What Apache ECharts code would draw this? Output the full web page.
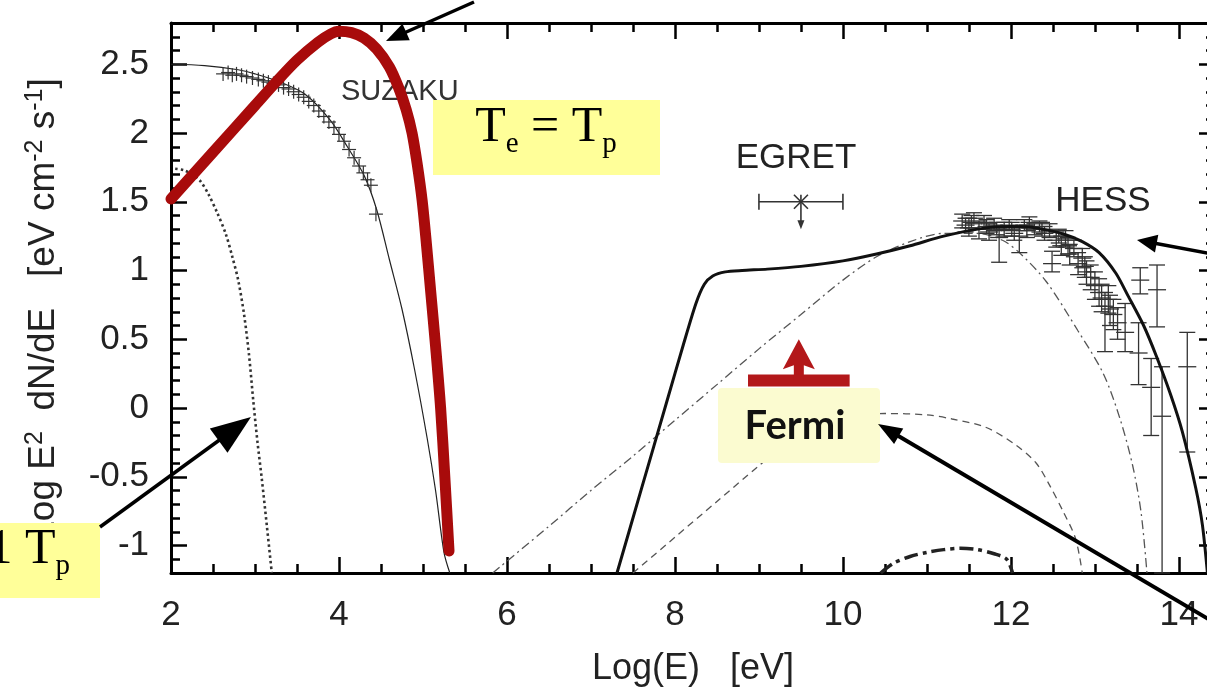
<!DOCTYPE html>
<html>
<head>
<meta charset="utf-8">
<script src="https://cdn.jsdelivr.net/npm/echarts@6/dist/echarts.min.js"></script>
<style>
html,body{margin:0;padding:0;background:#fff;}
#c{width:1207px;height:688px;}
</style>
</head>
<body>
<div id="c"></div>
<script>
// ---------------- DATA ----------------
// Axis ticks / labels
const xMajor = [2, 4, 6, 8, 10, 12, 14];
const xMinor = [2.5, 3, 3.5, 4.5, 5, 5.5, 6.5, 7, 7.5, 8.5, 9, 9.5, 10.5, 11, 11.5, 12.5, 13, 13.5];
const yMajor = [-1, -0.5, 0, 0.5, 1, 1.5, 2, 2.5];
const yMinor = [-1.1, -0.9, -0.8, -0.7, -0.6, -0.4, -0.3, -0.2, -0.1, 0.1, 0.2, 0.3, 0.4,
  0.6, 0.7, 0.8, 0.9, 1.1, 1.2, 1.3, 1.4, 1.6, 1.7, 1.8, 1.9, 2.1, 2.2, 2.3, 2.4, 2.6, 2.7];

// Synchrotron model (thin solid)
const suzModelX = [2.0, 2.4, 2.8, 3.0, 3.3, 3.6, 3.9, 4.1, 4.3, 4.45, 4.6, 4.75, 4.9, 5.05, 5.15, 5.25, 5.32];
const suzModelY = [2.50, 2.49, 2.46, 2.43, 2.37, 2.28, 2.09, 1.90, 1.69, 1.44, 1.08, 0.72, 0.28, -0.22, -0.60, -1.05, -1.20];

// SUZAKU data points
const suzX = [2.62, 2.68, 2.73, 2.78, 2.84, 2.90, 2.97, 3.04, 3.10, 3.16, 3.22, 3.28, 3.34, 3.40, 3.46, 3.52,
  3.58, 3.64, 3.70, 3.76, 3.82, 3.88, 3.94, 4.00, 4.06, 4.12, 4.18, 4.24, 4.29, 4.34, 4.38, 4.44];
const suzY = [2.43, 2.44, 2.42, 2.43, 2.42, 2.41, 2.40, 2.39, 2.38, 2.37, 2.36, 2.35, 2.33, 2.32, 2.30, 2.28,
  2.26, 2.23, 2.20, 2.16, 2.12, 2.08, 2.04, 1.99, 1.94, 1.88, 1.82, 1.76, 1.71, 1.66, 1.62, 1.41];

// Dotted model
const dotX = [2.05, 2.15, 2.25, 2.35, 2.45, 2.55, 2.65, 2.73, 2.80, 2.87, 2.93, 2.98, 3.03, 3.08, 3.14, 3.20];
const dotY = [1.74, 1.73, 1.70, 1.65, 1.55, 1.42, 1.27, 1.10, 0.93, 0.68, 0.38, 0.05, -0.25, -0.51, -0.85, -1.20];

// Te = Tp model (thick red)
const redX = [2.0, 2.5, 3.0, 3.25, 3.5, 3.75, 3.9, 4.0, 4.15, 4.3, 4.45, 4.6, 4.71, 4.8, 4.87, 4.93, 4.99, 5.04, 5.09, 5.15, 5.21, 5.26, 5.31];
const redY = [1.52, 1.86, 2.20, 2.37, 2.53, 2.66, 2.72, 2.74, 2.73, 2.69, 2.61, 2.48, 2.33, 2.17, 2.00, 1.78, 1.51, 1.20, 0.86, 0.45, 0.00, -0.50, -1.04];

// Total gamma-ray model (thick solid, right)
const gamX = [7.31, 7.6, 7.9, 8.1, 8.25, 8.35, 8.45, 8.6, 8.8, 9.1, 9.5, 10.0, 10.4, 10.8, 11.2, 11.7, 12.0, 12.3, 12.65,
  12.85, 13.05, 13.25, 13.4, 13.58, 13.73, 13.9, 14.04, 14.2, 14.28, 14.34];
const gamY = [-1.20, -0.59, 0.04, 0.46, 0.76, 0.90, 0.96, 0.99, 1.00, 1.01, 1.03, 1.07, 1.12, 1.18, 1.25, 1.31, 1.32, 1.31, 1.26,
  1.21, 1.13, 0.98, 0.81, 0.60, 0.38, 0.10, -0.17, -0.58, -0.85, -1.20];

// Dash-dot model (thin)
const ddX = [5.83, 6.5, 7.0, 7.5, 8.0, 8.5, 9.0, 9.5, 10.0, 10.4, 10.8, 11.2, 11.6, 11.9, 12.1, 12.42, 12.8, 13.1, 13.3, 13.45, 13.55, 13.62];
const ddY = [-1.2, -0.86, -0.60, -0.35, -0.09, 0.17, 0.43, 0.68, 0.93, 1.10, 1.21, 1.27, 1.27, 1.22, 1.13, 0.92, 0.56, 0.25, -0.08, -0.42, -0.76, -1.2];

// Dashed model (thin)
const dsX = [7.5, 8.0, 8.5, 9.0, 9.3, 9.6, 10.0, 10.5, 11.0, 11.3, 11.7, 12.06, 12.3, 12.45, 12.62, 12.77, 12.85];
const dsY = [-1.2, -0.94, -0.68, -0.42, -0.27, -0.15, -0.07, -0.04, -0.05, -0.08, -0.14, -0.27, -0.40, -0.55, -0.75, -0.95, -1.2];

// Bold dash-dot model (bottom arc)
const bdX = [10.45, 10.6, 10.8, 11.0, 11.2, 11.4, 11.6, 11.8, 11.95, 12.02];
const bdY = [-1.2, -1.13, -1.08, -1.05, -1.03, -1.02, -1.03, -1.06, -1.10, -1.2];

// HESS data: x, y, lower, upper
const hessX  = [11.42, 11.46, 11.50, 11.53, 11.56, 11.62, 11.68, 11.71, 11.74, 11.80, 11.83, 11.86, 11.92, 11.98, 12.01, 12.04, 12.10, 12.16,
  12.19, 12.22, 12.28, 12.34, 12.37, 12.40, 12.46, 12.49, 12.54, 12.57, 12.60, 12.65, 12.68, 12.70, 12.75, 12.80, 12.85, 12.88, 12.90,
  12.95, 13.00, 13.05, 13.08, 13.12, 13.16, 13.18, 13.22, 13.27, 13.36, 13.52, 13.54, 13.67, 13.74, 13.80, 14.10];
const hessY  = [1.36, 1.33, 1.31, 1.35, 1.38, 1.30, 1.35, 1.32, 1.28, 1.33, 1.30, 1.24, 1.30, 1.33, 1.30, 1.27, 1.25, 1.33,
  1.29, 1.35, 1.30, 1.32, 1.30, 1.27, 1.29, 1.05, 1.22, 1.25, 1.18, 1.23, 1.18, 1.12, 1.16, 1.05, 1.09, 1.03, 0.99,
  0.95, 0.89, 0.84, 0.80, 0.74, 0.79, 0.72, 0.68, 0.62, 0.55, 0.40, 0.93, 0.15, 0.86, -0.06, 0.30];
const hessLo = [1.31, 1.28, 1.25, 1.31, 1.34, 1.23, 1.30, 1.27, 1.22, 1.29, 1.26, 1.06, 1.25, 1.29, 1.25, 1.22, 1.13, 1.29,
  1.24, 1.31, 1.26, 1.28, 1.25, 1.22, 1.24, 0.99, 1.17, 1.20, 1.11, 1.17, 1.12, 1.04, 1.10, 0.97, 1.02, 0.95, 0.90,
  0.86, 0.79, 0.74, 0.70, 0.41, 0.69, 0.60, 0.57, 0.50, 0.41, 0.17, 0.83, -0.20, 0.59, -1.20, -0.32];
const hessHi = [1.41, 1.38, 1.38, 1.40, 1.42, 1.36, 1.40, 1.37, 1.34, 1.38, 1.35, 1.31, 1.35, 1.37, 1.35, 1.32, 1.31, 1.37,
  1.33, 1.39, 1.34, 1.36, 1.35, 1.32, 1.34, 1.14, 1.28, 1.30, 1.25, 1.29, 1.24, 1.19, 1.22, 1.13, 1.16, 1.10, 1.07,
  1.04, 0.99, 0.94, 0.90, 0.84, 0.89, 0.82, 0.79, 0.73, 0.76, 0.62, 1.02, 0.36, 1.04, 0.30, 0.55];

// EGRET point: x, y, x-low, x-high, upper-limit arrow end
const egretX = [9.5], egretY = [1.5], egretXLo = [9.0], egretXHi = [10.0], egretArrowY = [1.3];

// Fermi lower limit: x-low, x-high, y, arrow tip
const fermiXLo = [8.87], fermiXHi = [10.08], fermiY = [0.2], fermiArrowY = [0.5];

// ---------------- CHART ----------------
const zip = (...cols) => cols[0].map((_, i) => cols.map(c => c[i]));
const SANS = '"Liberation Sans", Arial, Helvetica, sans-serif';
const SERIF = '"Liberation Serif", "Times New Roman", serif';
const X_MIN = 2, X_MAX = 14.43, Y_MIN = -1.2, Y_MAX = 2.8;
const AX = '#000';

function xAx(pos, ticks, len, extra) {
  return Object.assign({
    type: 'value', position: pos, min: X_MIN, max: X_MAX,
    axisLine: { show: false, onZero: false },
    axisTick: { show: true, inside: true, length: len, customValues: ticks, lineStyle: { color: AX, width: 2.5 } },
    axisLabel: { show: false },
    splitLine: { show: false }
  }, extra || {});
}
function yAx(pos, ticks, len, extra) {
  return Object.assign({
    type: 'value', position: pos, min: Y_MIN, max: Y_MAX,
    axisLine: { show: false, onZero: false },
    axisTick: { show: true, inside: true, length: len, customValues: ticks, lineStyle: { color: AX, width: 2.5 } },
    axisLabel: { show: false },
    splitLine: { show: false }
  }, extra || {});
}

const lineSeries = (name, xs, ys, ls, z, sm) => ({
  type: 'line', name, data: zip(xs, ys), showSymbol: false, symbol: 'none',
  smooth: sm === undefined ? 0.3 : sm, lineStyle: ls, z: z || 2, silent: true, clip: true
});

const chart = echarts.init(document.getElementById('c'), null, { renderer: 'canvas' });

const option = {
  animation: false,
  backgroundColor: '#fff',
  grid: { left: 171, top: 23, right: -8, bottom: 115, containLabel: false, outerBoundsMode: 'none' },
  xAxis: [
    xAx('bottom', xMajor, 16, {
      axisLine: { show: true, onZero: false, lineStyle: { color: AX, width: 3 } },
      axisLabel: { show: true, customValues: xMajor, fontSize: 35, fontFamily: SANS, color: '#222', margin: 25 },
      name: 'Log(E)   [eV]', nameLocation: 'middle', nameGap: 78,
      nameTextStyle: { fontSize: 36, fontFamily: SANS, color: '#222' }
    }),
    xAx('bottom', xMinor, 9),
    xAx('top', xMajor, 16, { axisLine: { show: true, onZero: false, lineStyle: { color: AX, width: 3 } } }),
    xAx('top', xMinor, 9)
  ],
  yAxis: [
    yAx('left', yMajor, 16, {
      axisLine: { show: true, onZero: false, lineStyle: { color: AX, width: 3 } },
      axisLabel: { show: true, customValues: yMajor, fontSize: 35, fontFamily: SANS, color: '#222', margin: 22 },
      name: 'Log E{sup|2}  dN/dE   [eV cm{sup|-2} s{sup|-1}]', nameLocation: 'middle', nameGap: 106,
      nameTextStyle: {
        fontSize: 37, fontFamily: SANS, color: '#222', lineHeight: 42, padding: [0, 24, 0, 0],
        rich: { sup: { fontSize: 25, fontFamily: SANS, color: '#222', verticalAlign: 'top', lineHeight: 25 } }
      }
    }),
    yAx('left', yMinor, 9),
    yAx('right', yMajor, 16),
    yAx('right', yMinor, 9)
  ],
  series: [
    lineSeries('Synchrotron', suzModelX, suzModelY, { color: '#222', width: 1.2 }, 2),
    {
      type: 'custom', name: 'SUZAKU', data: zip(suzX, suzY), encode: { x: 0, y: 1 }, z: 3, silent: true,
      renderItem: (p, api) => {
        const c = api.coord([api.value(0), api.value(1)]), s = 7;
        const st = { stroke: '#333', lineWidth: 1.2 };
        return { type: 'group', children: [
          { type: 'line', shape: { x1: c[0] - s, y1: c[1], x2: c[0] + s, y2: c[1] }, style: st },
          { type: 'line', shape: { x1: c[0], y1: c[1] - s, x2: c[0], y2: c[1] + s }, style: st }
        ] };
      }
    },
    lineSeries('Dotted', dotX, dotY, { color: '#333', width: 2.6, type: [2.5, 3] }, 2),
    lineSeries('Te = Tp', redX, redY, { color: '#a80b0b', width: 11, cap: 'round', join: 'round' }, 5),
    lineSeries('Total', gamX, gamY, { color: '#111', width: 3 }, 4, 0.25),
    lineSeries('DashDot', ddX, ddY, { color: '#555', width: 1.3, type: [9, 4, 2, 4] }, 2),
    lineSeries('Dashed', dsX, dsY, { color: '#555', width: 1.3, type: [7, 5] }, 2),
    lineSeries('BoldDashDot', bdX, bdY, { color: '#222', width: 3.5, type: [14, 5, 4, 5] }, 2),
    {
      type: 'custom', name: 'HESS', data: zip(hessX, hessY, hessLo, hessHi), encode: { x: 0, y: 1 }, z: 3, silent: true,
      renderItem: (p, api) => {
        const x = api.value(0), y = api.value(1);
        const c = api.coord([x, y]), lo = api.coord([x, api.value(2)]), hi = api.coord([x, api.value(3)]);
        const st = { stroke: '#333', lineWidth: 1.3 };
        const hw = 9, cw = 8;
        return { type: 'group', children: [
          { type: 'line', shape: { x1: c[0], y1: lo[1], x2: c[0], y2: hi[1] }, style: st },
          { type: 'line', shape: { x1: c[0] - cw, y1: lo[1], x2: c[0] + cw, y2: lo[1] }, style: st },
          { type: 'line', shape: { x1: c[0] - cw, y1: hi[1], x2: c[0] + cw, y2: hi[1] }, style: st },
          { type: 'line', shape: { x1: c[0] - hw, y1: c[1], x2: c[0] + hw, y2: c[1] }, style: st }
        ] };
      }
    },
    {
      type: 'custom', name: 'EGRET', data: zip(egretX, egretY, egretXLo, egretXHi, egretArrowY), encode: { x: 0, y: 1 }, z: 3, silent: true,
      renderItem: (p, api) => {
        const x = api.value(0), y = api.value(1);
        const c = api.coord([x, y]), l = api.coord([api.value(2), y]), r = api.coord([api.value(3), y]);
        const d = api.coord([x, api.value(4)]);
        const st = { stroke: '#333', lineWidth: 1.6 };
        const m = 7, cap = 8;
        return { type: 'group', children: [
          { type: 'line', shape: { x1: l[0], y1: c[1], x2: r[0], y2: c[1] }, style: st },
          { type: 'line', shape: { x1: l[0], y1: c[1] - cap, x2: l[0], y2: c[1] + cap }, style: st },
          { type: 'line', shape: { x1: r[0], y1: c[1] - cap, x2: r[0], y2: c[1] + cap }, style: st },
          { type: 'line', shape: { x1: c[0] - m, y1: c[1] - m, x2: c[0] + m, y2: c[1] + m }, style: st },
          { type: 'line', shape: { x1: c[0] - m, y1: c[1] + m, x2: c[0] + m, y2: c[1] - m }, style: st },
          { type: 'line', shape: { x1: c[0], y1: c[1] - m, x2: c[0], y2: d[1] - 6 }, style: st },
          { type: 'polygon', shape: { points: [[c[0], d[1]], [c[0] - 3.5, d[1] - 9], [c[0] + 3.5, d[1] - 9]] }, style: { fill: '#333' } }
        ] };
      }
    },
    {
      type: 'custom', name: 'Fermi', data: zip(fermiXLo, fermiXHi, fermiY, fermiArrowY), encode: { x: [0, 1], y: 2 }, z: 6, silent: true,
      renderItem: (p, api) => {
        const y = api.value(2);
        const l = api.coord([api.value(0), y]), r = api.coord([api.value(1), y]);
        const cx = (l[0] + r[0]) / 2;
        const tip = api.coord([(api.value(0) + api.value(1)) / 2, api.value(3)]);
        const col = '#b3181a', th = 12;
        return { type: 'group', children: [
          { type: 'rect', shape: { x: l[0], y: l[1] - th / 2, width: r[0] - l[0], height: th }, style: { fill: col } },
          { type: 'rect', shape: { x: cx - 5, y: tip[1] + 24, width: 10, height: l[1] - tip[1] - 24 }, style: { fill: col } },
          { type: 'polygon', shape: { points: [[cx, tip[1]], [cx - 16, tip[1] + 30], [cx - 5, tip[1] + 26], [cx + 5, tip[1] + 26], [cx + 16, tip[1] + 30]] }, style: { fill: col } }
        ] };
      }
    }
  ]
};
chart.setOption(option);

// ---------------- ANNOTATIONS ----------------
function arrow(x1, y1, x2, y2, lw, hl, hw) {
  const a = Math.atan2(y2 - y1, x2 - x1);
  const bx = x2 - hl * Math.cos(a), by = y2 - hl * Math.sin(a);
  const nx = -Math.sin(a), ny = Math.cos(a);
  return [
    { type: 'line', z: 60, silent: true, shape: { x1: x1, y1: y1, x2: bx + (hl * 0.3) * Math.cos(a), y2: by + (hl * 0.3) * Math.sin(a) }, style: { stroke: '#000', lineWidth: lw } },
    { type: 'polygon', z: 60, silent: true, shape: { points: [[x2, y2], [bx + nx * hw, by + ny * hw], [bx - nx * hw, by - ny * hw]] }, style: { fill: '#000' } }
  ];
}
function txt(x, y, text, size, extra) {
  return Object.assign({
    type: 'text', x: x, y: y, z: 55, silent: true,
    style: Object.assign({ text: text, fontSize: size, fontFamily: SANS, fill: '#222',
      textAlign: 'center', textVerticalAlign: 'middle', align: 'center', verticalAlign: 'middle' }, extra || {})
  });
}
const subRich = {
  m: { fontSize: 50, fontFamily: SERIF, fill: '#000', color: '#000', lineHeight: 62 },
  s: { fontSize: 29, fontFamily: SERIF, fill: '#000', color: '#000', lineHeight: 29, verticalAlign: 'bottom' }
};

const graphics = [].concat(
  [ { type: 'text', x: 341, y: 92, z: 1, silent: true,
      style: { text: 'SUZAKU', fontSize: 29, fontFamily: SANS, fill: '#333', textAlign: 'left', align: 'left', textVerticalAlign: 'middle', verticalAlign: 'middle' } } ],
  [ { type: 'rect', z: 50, silent: true, shape: { x: 433, y: 100, width: 227, height: 75 }, style: { fill: '#ffff99' } },
    { type: 'text', x: 546, y: 128, z: 55, silent: true,
      style: { text: '{m|T}{s|e}{m| = T}{s|p}', rich: subRich, textAlign: 'center', align: 'center', textVerticalAlign: 'middle', verticalAlign: 'middle' } } ],
  [ { type: 'rect', z: 50, silent: true, shape: { x: -10, y: 523, width: 110, height: 75 }, style: { fill: '#ffff99' } },
    { type: 'text', x: 70, y: 550, z: 55, silent: true,
      style: { text: '{m|T}{s|e}{m| = 0.1 T}{s|p}', rich: subRich, textAlign: 'right', align: 'right', textVerticalAlign: 'middle', verticalAlign: 'middle' } } ],
  [ txt(796, 158, 'EGRET', 35), txt(1103, 201, 'HESS', 35) ],
  [ { type: 'rect', z: 50, silent: true, shape: { x: 718, y: 388, width: 162, height: 75, r: 4 }, style: { fill: '#fbfbd0' } },
    txt(795, 426, 'Fermi', 40, { fontFamily: 'Lato, "Open Sans", sans-serif', fontWeight: 'bold', fill: '#111' }) ],
  arrow(474, 2, 386, 41, 3.5, 22, 9),
  arrow(1212, 254, 1137, 240, 3.5, 20, 9),
  arrow(100, 527, 251, 417, 3.5, 40, 15),
  arrow(1210, 620, 878, 424, 4, 24, 9)
);
chart.setOption({ graphic: { elements: graphics } });
</script>
</body>
</html>
